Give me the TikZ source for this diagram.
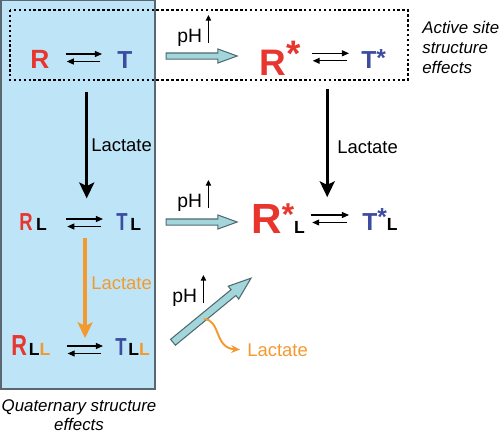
\documentclass[tikz,border=0pt]{standalone}
\usepackage{fontspec}
\setmainfont{Liberation Sans}
\usepackage{graphicx}
\usetikzlibrary{arrows.meta, calc, shapes.arrows}
\definecolor{RRed}{HTML}{E8352E}
\definecolor{TBlue}{HTML}{3C4DA0}
\definecolor{LacOrange}{HTML}{F39A2F}
\definecolor{BoxBlue}{HTML}{BEE5F7}
\definecolor{BoxEdge}{HTML}{5B6770}
\definecolor{ArrowFill}{HTML}{A3D6DB}
\definecolor{ArrowEdge}{HTML}{4F6B70}
\newcommand{\cond}[1]{\scalebox{0.75}[1]{#1}}
\newcommand{\fs}[1]{\fontsize{#1}{#1}\selectfont}
\tikzset{
    species/.style={anchor=base west, inner sep=0pt, font=\bfseries},
    eqarr/.style={line width=0.6pt, -{Triangle[length=4pt,width=3.4pt]}},
    lacarr/.style={line width=1.8pt, -{Stealth[length=9pt,width=8.5pt,inset=2pt]}},
    pharr/.style={single arrow, draw=ArrowEdge, fill=ArrowFill, line width=0.6pt,
        single arrow tip angle=40, inner xsep=0pt},
    uparr/.style={line width=0.6pt, -{Triangle[length=3.2pt,width=3pt]}},
    lactext/.style={anchor=west, inner sep=0pt, font=\fs{10.5}},
    phtext/.style={anchor=base west, inner sep=0pt, font=\fs{11}},
    notetext/.style={inner sep=0pt, font=\itshape\fontsize{9.6}{11.3}\selectfont}
}

\begin{document}
\begin{tikzpicture}[x=0.02cm, y=-0.02cm]
    \useasboundingbox (0,0) rectangle (500,434);

    % =========================================
    % 1. boxes
    % =========================================
    \fill[BoxBlue] (1,0.5) rectangle (155,389);
    \draw[BoxEdge, line width=0.6pt] (1,0.5) rectangle (155,389);
    \draw[line width=1.4pt, dash pattern=on 1.4pt off 1.4pt] (10,10) rectangle (408,80);

    % =========================================
    % 2. species
    % =========================================
    \node[species] (R1) at (30,68) {\color{RRed}\fs{15}R};
    \node[species] (T1) at (117,68) {\color{TBlue}\fs{14}T};
    \node[species] (Rs1) at (259,75) {\color{RRed}\fs{21}R\smash{\raisebox{5pt}{*}}};
    \node[species] (Ts1) at (361,68) {\color{TBlue}\fs{14}T\smash{\raisebox{1pt}{*}}};

    \node[species] (R2) at (19,230) {\color{RRed}\fs{14}\cond{R}\hspace{2pt}\color{black}\fs{10}L};
    \node[species] (T2) at (116,230) {\color{TBlue}\fs{14}\cond{T}\hspace{1.5pt}\color{black}\fs{10}L};
    \node[species] (Rs2) at (251,233) {\color{RRed}\fs{24}R\smash{\raisebox{4.5pt}{\fs{18}*}}\color{black}\fs{10}L};
    \node[species] (Ts2) at (362,230) {\color{TBlue}\fs{14}T\smash{\raisebox{2.3pt}{*}}\color{black}\fs{10}L};

    \node[species] (R3) at (11,355) {\color{RRed}\fs{16.5}\cond{R}\hspace{1pt}\color{black}\fs{10}L\color{LacOrange}L};
    \node[species] (T3) at (115,355) {\color{TBlue}\fs{14}\cond{T}\hspace{1pt}\color{black}\fs{10}L\color{LacOrange}L};

    % equilibrium arrows
    \foreach \lft/\rgt/\dl/\dr/\yl/\yr in {R1/T1/16/15/-14/-14, R2/T2/19/13/-11/-11,
        R3/T3/16/12/-9/-9, Rs1/Ts1/11/12/-21.7/-14.7, Rs2/Ts2/6/13/-18/-15} {
        \draw[eqarr] ([shift={(\dl,\yl)}]\lft.base east) -- ([shift={(-\dr,\yr)}]\rgt.base west);
        \draw[eqarr] ([shift={(-\dr-2,\yr+7.5)}]\rgt.base west) -- ([shift={(\dl+1,\yl+7.5)}]\lft.base east);
    }

    % =========================================
    % 3. lactate arrows
    % =========================================
    \coordinate (eq1) at ($(R1.base east)!.55!(T1.base west)$);
    \coordinate (eq2) at ($(R2.base east)!.55!(T2.base west)$);
    \coordinate (eq4) at ($(Rs1.base east)!.44!(Ts1.base west)$);
    \draw[lacarr, shorten <=13.6pt, shorten >=18pt] (eq1) -- (eq1 |- R2.base);
    \draw[lacarr, shorten <=9.6pt, shorten >=20.4pt] (eq4) -- (eq4 |- Rs2.base);
    \draw[lacarr, LacOrange, shorten <=4.5pt, shorten >=9.6pt] (eq2) -- (eq2 |- R3.base);

    \node[lactext] (lac1) at (91,145) {Lactate};
    \node[lactext] (lac2) at (337,147) {Lactate};
    \node[lactext, text=LacOrange] (lac3) at (91,283) {Lactate};

    % =========================================
    % 4. pH arrows
    % =========================================
    \node[pharr, minimum height=1.42cm, inner ysep=0.05cm, single arrow head extend=0.08cm] (pha1) at (197.5,56) {};
    \node[pharr, minimum height=1.42cm, inner ysep=0.05cm, single arrow head extend=0.08cm] (pha2) at (197.5,222) {};
    \node[pharr, minimum height=2.02cm, inner ysep=0.065cm, single arrow head extend=0.09cm, rotate=39.4] (pha3) at (208,313.5) {};

    \foreach \n/\px/\py in {1/177/42, 2/177/207, 3/172/302} {
        \node[phtext] (ph\n) at (\px,\py) {pH};
        \draw[uparr] ([shift={(6,1)}]ph\n.base east) -- ++(0,-28);
    }

    % lactate released
    \node[lactext, text=LacOrange] (lac4) at (247,350) {Lactate};
    \coordinate (branch) at (204,319);
    \draw[LacOrange, line width=1.1pt, -{Stealth[length=5pt,width=4.5pt]}, shorten >=4pt]
        (branch) .. controls (221,320) and (214,348) .. (lac4.west);

    % =========================================
    % 5. notes
    % =========================================
    \node[notetext, anchor=north west, align=left] (note1) at (422,21) {Active site\\structure\\effects};
    \node[notetext, anchor=north, align=center] (note2) at (79,399) {Quaternary structure\\effects};

\end{tikzpicture}
\end{document}
